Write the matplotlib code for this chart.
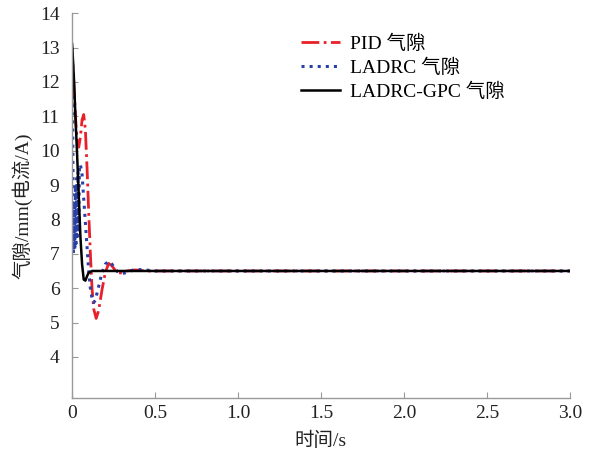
import matplotlib.pyplot as plt

plt.rcParams['font.family'] = ['Liberation Serif', 'Noto Sans CJK SC']

# --- data ---
t_pid = [0, 0.01, 0.02, 0.03, 0.04, 0.05, 0.06, 0.07, 0.08, 0.09, 0.10, 0.11,
         0.12, 0.13, 0.145, 0.16, 0.18, 0.20, 0.22, 0.24, 0.26, 0.28, 0.30,
         0.33, 0.38, 0.45, 3.0]
y_pid = [12.9, 12.0, 11.0, 10.3, 10.1, 10.4, 10.9, 11.05, 10.6, 9.5, 8.2, 7.0,
         6.0, 5.4, 5.12, 5.35, 5.95, 6.45, 6.72, 6.65, 6.52, 6.45, 6.44,
         6.5, 6.53, 6.5, 6.5]

t_ladrc = [0, 0.004, 0.008, 0.012, 0.016, 0.02, 0.024, 0.028, 0.032, 0.036,
           0.04, 0.044, 0.05, 0.06, 0.07, 0.08, 0.09, 0.10, 0.11, 0.12, 0.13,
           0.14, 0.16, 0.18, 0.20, 0.22, 0.24, 0.26, 0.28, 0.30, 0.33, 0.37,
           0.42, 0.5, 3.0]
y_ladrc = [13.0, 10.5, 7.0, 8.5, 7.1, 9.0, 7.3, 9.2, 7.5, 9.4,
           7.8, 9.5, 9.6, 9.3, 8.6, 7.9, 7.2, 6.5, 6.0, 5.7, 5.58,
           5.65, 6.05, 6.45, 6.7, 6.78, 6.7, 6.55, 6.45, 6.42, 6.46, 6.53,
           6.54, 6.5, 6.5]

t_gpc = [0, 0.01, 0.02, 0.03, 0.04, 0.05, 0.06, 0.07, 0.08, 0.09, 0.10, 0.12, 3.0]
y_gpc = [13.1, 12.2, 11.0, 9.9, 8.7, 7.5, 6.7, 6.25, 6.22, 6.35, 6.45, 6.5, 6.5]

x_ticks = [0, 0.5, 1.0, 1.5, 2.0, 2.5, 3.0]
x_labels = ['0', '0.5', '1.0', '1.5', '2.0', '2.5', '3.0']
y_ticks = list(range(4, 15))

fig = plt.figure(figsize=(5.96, 4.54), dpi=100)
ax = fig.add_axes([0.121, 0.123, 0.835, 0.848])

ax.plot(t_pid, y_pid, color='#e8202a', linestyle='-.', linewidth=2, label='PID 气隙')
ax.plot(t_ladrc, y_ladrc, color='#2b3fa8', linestyle=':', linewidth=2.2, label='LADRC 气隙')
ax.plot(t_gpc, y_gpc, color='black', linestyle='-', linewidth=1.8, label='LADRC-GPC 气隙')

ax.set_xlim(0, 3.0)
ax.set_ylim(2.8, 14)
ax.set_xticks(x_ticks)
ax.set_xticklabels(x_labels)
ax.set_yticks(y_ticks)

for s in ['top', 'right']:
    ax.spines[s].set_visible(False)
for s in ['left', 'bottom']:
    ax.spines[s].set_color('#999999')
    ax.spines[s].set_linewidth(1.0)
ax.tick_params(direction='in', length=4, color='#999999', labelsize=14,
               labelcolor='#222222')
ax.tick_params(axis='x', pad=5)
ax.tick_params(axis='y', pad=9)

ax.set_xlabel('时间/s', fontsize=14, color='#222222', labelpad=7)
ax.set_ylabel('气隙/mm(电流/A)', fontsize=14, color='#222222', labelpad=5)

ax.legend(loc='upper left', bbox_to_anchor=(0.425, 0.99), frameon=False,
          fontsize=14, handlelength=2.0, handletextpad=0.5, labelspacing=0.3)

fig.savefig('out.png', dpi=100)
